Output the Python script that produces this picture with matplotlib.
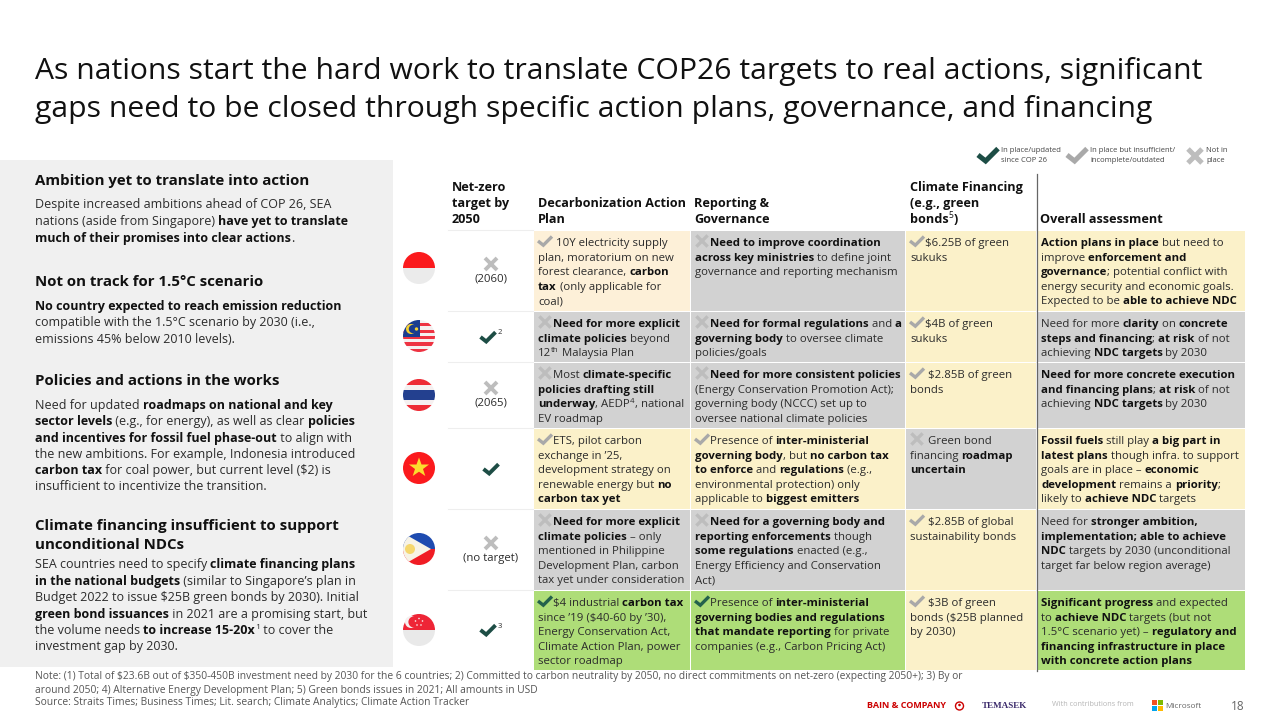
import re

import matplotlib
matplotlib.use("Agg")
import matplotlib.pyplot as plt
from matplotlib.font_manager import FontProperties
from matplotlib.patches import Circle, Polygon, Rectangle

FONT = "Open Sans"
TEXT = "#2b2b2b"
BLACK = "#111111"
plt.rcParams["text.parse_math"] = False

colors = {"peach": "#fdf0d8", "yellow": "#fbf1c9", "grey": "#d2d2d2", "green": "#aedd78"}
dark_check = "#1d4d45"
soft_check = "#a9a9a9"
soft_cross = "#bdbdbd"

title_lines = [
    "As nations start the hard work to translate COP26 targets to real actions, significant",
    "gaps need to be closed through specific action plans, governance, and financing",
]

# left panel: (line, y, is_heading)
panel_lines = [
    ("**Ambition yet to translate into action**", 179, True),
    ("Despite increased ambitions ahead of COP 26, SEA", 203, False),
    ("nations (aside from Singapore) **have yet to translate**", 220, False),
    ("**much of their promises into clear actions**.", 237, False),
    ("**Not on track for 1.5°C scenario**", 280, True),
    ("**No country expected to reach emission reduction**", 305, False),
    ("compatible with the 1.5°C scenario by 2030 (i.e.,", 321, False),
    ("emissions 45% below 2010 levels).", 338, False),
    ("**Policies and actions in the works**", 379, True),
    ("Need for updated **roadmaps on national and key**", 404, False),
    ("**sector levels** (e.g., for energy), as well as clear **policies**", 420, False),
    ("**and incentives for fossil fuel phase-out** to align with", 437, False),
    ("the new ambitions. For example, Indonesia introduced", 453, False),
    ("**carbon tax** for coal power, but current level ($2) is", 469, False),
    ("insufficient to incentivize the transition.", 485, False),
    ("**Climate financing insufficient to support**", 524, True),
    ("**unconditional NDCs**", 543, True),
    ("SEA countries need to specify **climate financing plans**", 563, False),
    ("**in the national budgets** (similar to Singapore’s plan in", 580, False),
    ("Budget 2022 to issue $25B green bonds by 2030). Initial", 596, False),
    ("**green bond issuances** in 2021 are a promising start, but", 613, False),
    ("the volume needs **to increase 15-20x**^1 to cover the", 629, False),
    ("investment gap by 2030.", 645, False),
]

headers = [
    (452, ["Net-zero", "target by", "2050"]),
    (538, ["Decarbonization Action", "Plan"]),
    (694, ["Reporting &", "Governance"]),
    (910, ["Climate Financing", "(e.g., green", "bonds^5)"]),
    (1040, ["Overall assessment"]),
]

row_edges = [231, 312, 363, 429, 510, 591, 671]
col_edges = [534, 691, 906, 1037, 1246]

netzero_status = ["cross", "dark", "cross", "dark", "cross", "dark"]
netzero_notes = ["(2060)", "^2", "(2065)", "", "(no target)", "^3"]

decarb_status = ["soft", "cross", "cross", "soft", "cross", "dark"]
decarb_fill = ["peach", "grey", "grey", "yellow", "grey", "green"]
decarb_cells = [
    [" 10Y electricity supply", "plan, moratorium on new", "forest clearance, **carbon**",
     "**tax** (only applicable for", "coal)"],
    ["**Need for more explicit**", "**climate policies** beyond", "12^th Malaysia Plan"],
    ["Most **climate-specific**", "**policies drafting still**", "**underway**, AEDP^4, national",
     "EV roadmap"],
    ["ETS, pilot carbon", "exchange in ’25,", "development strategy on",
     "renewable energy but **no**", "**carbon tax yet**"],
    ["**Need for more explicit**", "**climate policies** – only", "mentioned in Philippine",
     "Development Plan, carbon", "tax yet under consideration"],
    ["$4 industrial **carbon tax**", "since ’19 ($40-60 by ’30),", "Energy Conservation Act,",
     "Climate Action Plan, power", "sector roadmap"],
]

reporting_status = ["cross", "cross", "cross", "soft", "cross", "dark"]
reporting_fill = ["grey", "grey", "grey", "yellow", "grey", "green"]
reporting_cells = [
    ["**Need to improve coordination**", "**across key ministries** to define joint",
     "governance and reporting mechanism"],
    ["**Need for formal regulations** and **a**", "**governing body** to oversee climate",
     "policies/goals"],
    ["**Need for more consistent policies**", "(Energy Conservation Promotion Act);",
     "governing body (NCCC) set up to", "oversee national climate policies"],
    ["Presence of **inter-ministerial**", "**governing body**, but **no carbon tax**",
     "**to enforce** and **regulations** (e.g.,", "environmental protection) only",
     "applicable to **biggest emitters**"],
    ["**Need for a governing body and**", "**reporting enforcements** though",
     "**some regulations** enacted (e.g.,", "Energy Efficiency and Conservation", "Act)"],
    ["Presence of **inter-ministerial**", "**governing bodies and regulations**",
     "**that mandate reporting** for private", "companies (e.g., Carbon Pricing Act)"],
]

finance_status = ["soft", "soft", "soft", "cross", "soft", "soft"]
finance_fill = ["yellow", "yellow", "yellow", "grey", "yellow", "yellow"]
finance_cells = [
    ["$6.25B of green", "sukuks"],
    ["$4B of green", "sukuks"],
    [" $2.85B of green", "bonds"],
    [" Green bond", "financing **roadmap**", "**uncertain**"],
    [" $2.85B of global", "sustainability bonds"],
    [" $3B of green", "bonds ($25B planned", "by 2030)"],
]

overall_fill = ["yellow", "grey", "grey", "yellow", "grey", "green"]
overall_cells = [
    ["**Action plans in place** but need to", "improve **enforcement and**",
     "**governance**; potential conflict with", "energy security and economic goals.",
     "Expected to be **able to achieve NDC**"],
    ["Need for more **clarity** on **concrete**", "**steps and financing**; **at risk** of not",
     "achieving **NDC targets** by 2030"],
    ["**Need for more concrete execution**", "**and financing plans**; **at risk** of not",
     "achieving **NDC targets** by 2030"],
    ["**Fossil fuels** still play **a big part in**", "**latest plans** though infra. to support",
     "goals are in place – **economic**", "**development** remains a **priority**;",
     "likely to **achieve NDC** targets"],
    ["Need for **stronger ambition,**", "**implementation; able to achieve**",
     "**NDC** targets by 2030 (unconditional", "target far below region average)"],
    ["**Significant progress** and expected", "to **achieve NDC** targets (but not",
     "1.5°C scenario yet) – **regulatory and**", "**financing infrastructure in place**",
     "**with concrete action plans**"],
]

note_lines = [
    "Note: (1) Total of $23.6B out of $350-450B investment need by 2030 for the 6 countries; 2) Committed to carbon neutrality by 2050, no direct commitments on net-zero (expecting 2050+); 3) By or",
    "around 2050; 4) Alternative Energy Development Plan; 5) Green bonds issues in 2021; All amounts in USD",
    "Source: Straits Times; Business Times; Lit. search; Climate Analytics; Climate Action Tracker",
]

fig = plt.figure(figsize=(12.8, 7.2), dpi=100)
ax = fig.add_axes([0, 0, 1, 1])
ax.set_xlim(0, 1280)
ax.set_ylim(720, 0)
ax.axis("off")
renderer = fig.canvas.get_renderer()


def seg_width(s, prop):
    # trailing spaces are not measured, so measure against an end marker
    w1 = renderer.get_text_width_height_descent(s + "|", prop, False)[0]
    w2 = renderer.get_text_width_height_descent("|", prop, False)[0]
    return w1 - w2


def rich(x, y, line, size, color=TEXT):
    # **bold** and ^sup markup, y is the visual middle of the line
    reg = FontProperties(family=FONT, size=size)
    bold = FontProperties(family=FONT, size=size, weight="bold")
    small = FontProperties(family=FONT, size=size * 0.68)
    base = y + size * 0.52
    for i, part in enumerate(re.split(r"\*\*", line)):
        is_bold = i % 2 == 1
        for j, sub in enumerate(re.split(r"\^(\w+)", part)):
            if not sub:
                continue
            if j % 2 == 1:
                ax.text(x, base - size * 0.55, sub, fontproperties=small, color=color, va="baseline")
                x += seg_width(sub, small)
            else:
                prop = bold if is_bold else reg
                ax.text(x, base, sub, fontproperties=prop, color=BLACK if is_bold else color, va="baseline")
                x += seg_width(sub, prop)
    return x


def check(cx, cy, w, color, lw):
    ax.plot([cx - w * 0.5, cx - w * 0.12, cx + w * 0.5], [cy, cy + w * 0.3, cy - w * 0.32],
            color=color, lw=lw, solid_joinstyle="miter", solid_capstyle="butt")


def cross(cx, cy, w, color, lw):
    for s in (-1, 1):
        ax.plot([cx - w / 2, cx + w / 2], [cy - s * w / 2, cy + s * w / 2],
                color=color, lw=lw, solid_capstyle="butt")


def icon(kind, cx, cy, w=14, lw=2.4, on_green=False):
    if kind == "dark":
        check(cx, cy, w, "#24624c" if on_green else dark_check, lw)
    elif kind == "soft":
        check(cx, cy, w, soft_check, lw)
    else:
        cross(cx, cy, w * 0.8, soft_cross, lw)


def flag(cx, cy, r, bands, extra=None):
    clip = Circle((cx, cy), r, transform=ax.transData)
    top = cy - r
    for frac0, frac1, col in bands:
        p = Rectangle((cx - r, top + 2 * r * frac0), 2 * r, 2 * r * (frac1 - frac0), color=col, lw=0)
        ax.add_patch(p)
        p.set_clip_path(clip)
    if extra:
        extra(clip)


# title
ax.text(35, 71, title_lines[0], family=FONT, fontsize=21.7, color="#111111", va="center")
ax.text(35, 109, title_lines[1], family=FONT, fontsize=21.7, color="#111111", va="center")

# left panel
ax.add_patch(Rectangle((0, 160), 393, 507, color="#f0f0f0", lw=0))
for line, y, is_head in panel_lines:
    rich(35, y, line, 10.8 if is_head else 9.0, color="#2b2b2b")

# legend
check(988, 155, 20, dark_check, 3.6)
check(1077, 155, 20, soft_check, 3.6)
cross(1195, 156, 14, soft_cross, 3.6)
for x, y, s in [(1001, 151, "In place/updated"), (1001, 161, "since COP 26"),
                (1090, 151, "In place but insufficient/"), (1090, 161, "incomplete/outdated"),
                (1206, 151, "Not in"), (1206, 161, "place")]:
    ax.text(x, y, s, family=FONT, fontsize=5.5, color="#444444", va="center")

# headers (bottom aligned)
for x, lines in headers:
    y = 218 - 16 * (len(lines) - 1)
    for line in lines:
        rich(x, y, "**" + line.replace("^5", "**^5**") + "**", 9.05, color=BLACK)
        y += 16

# table cells
columns = [
    (decarb_cells, decarb_fill, decarb_status),
    (reporting_cells, reporting_fill, reporting_status),
    (finance_cells, finance_fill, finance_status),
    (overall_cells, overall_fill, None),
]
for c, (cells, fills, statuses) in enumerate(columns):
    x0, x1 = col_edges[c], col_edges[c + 1]
    for r, cell in enumerate(cells):
        y0, y1 = row_edges[r], row_edges[r + 1]
        ax.add_patch(Rectangle((x0, y0), x1 - x0 - 1.5, y1 - y0 - 1.5, color=colors[fills[r]], lw=0))
        y = y0 + 11
        for i, line in enumerate(cell):
            indent = 0
            if i == 0 and statuses is not None:
                icon(statuses[r], x0 + 11, y - 1, on_green=fills[r] == "green")
                indent = 15
            rich(x0 + 4 + indent, y, line, 8.2)
            y += 14.5

# net-zero column
netzero_y = [264, 337, 388, 469, 543, 630]
for r, kind in enumerate(netzero_status):
    note = netzero_notes[r]
    cx = 491 if not note.startswith("^") else 488
    icon(kind, cx, netzero_y[r], w=15, lw=2.8)
    if note.startswith("^"):
        ax.text(498, netzero_y[r] - 4, note[1:], family=FONT, fontsize=5.5, color=TEXT, va="center")
    elif note:
        ax.text(491, netzero_y[r] + 15, note, family=FONT, fontsize=8.2, color=TEXT, ha="center", va="center")
for y in row_edges[:-1]:
    ax.plot([448, 533], [y - 1, y - 1], color="#eeeeee", lw=0.8)

# separator
ax.plot([1036.5, 1036.5], [174, 671], color="#666666", lw=0.9)


# flags
def malaysia_extra(clip):
    p = Rectangle((403, 320), 17, 17, color="#1a3d8f", lw=0)
    ax.add_patch(p)
    p.set_clip_path(clip)
    ax.add_patch(Circle((411, 329), 5, color="#f5d033", lw=0))
    ax.add_patch(Circle((413, 329), 4.2, color="#1a3d8f", lw=0))
    ax.add_patch(Circle((416.5, 329), 1.7, color="#f5d033", lw=0))


def vietnam_extra(clip):
    pts = [(419, 457.5), (421.5, 464.5), (429, 464.5), (423, 469), (425.3, 476),
           (419, 471.7), (412.7, 476), (415, 469), (409, 464.5), (416.5, 464.5)]
    ax.add_patch(Polygon(pts, color="#fbdc2e", lw=0))


def philippines_extra(clip):
    p = Polygon([(403, 533), (431, 549), (403, 565)], color="#f7f3e6", lw=0)
    ax.add_patch(p)
    p.set_clip_path(clip)
    ax.add_patch(Circle((410, 549), 5, color="#f5d76e", lw=0))


def singapore_extra(clip):
    ax.add_patch(Circle((411, 622), 6, color="#f6f0f0", lw=0))
    ax.add_patch(Circle((414, 622), 5.6, color="#ee2536", lw=0))
    for dx, dy in [(0, -3.5), (3.5, -1), (2, 3), (-2, 3), (-3.5, -1)]:
        ax.add_patch(Circle((419 + dx, 622 + dy), 0.8, color="#f6f0f0", lw=0))


flag(419, 268, 16, [(0, 0.5, "#fb1a1d"), (0.5, 1, "#ebebeb")])
flag(419, 336, 16, [(i / 10, (i + 1) / 10, "#ee3342" if i % 2 else "#f5f0f0") for i in range(10)], malaysia_extra)
flag(419, 395, 16, [(0, 0.18, "#ee2b35"), (0.18, 0.34, "#f5f0f0"), (0.34, 0.66, "#23408f"),
                    (0.66, 0.82, "#f5f0f0"), (0.82, 1, "#ee2b35")])
flag(419, 468, 16, [(0, 1, "#fb1a1d")], vietnam_extra)
flag(419, 549, 16, [(0, 0.5, "#1e4bb0"), (0.5, 1, "#f01c24")], philippines_extra)
flag(419, 630, 16, [(0, 0.5, "#ee2536"), (0.5, 1, "#e9e9e9")], singapore_extra)

# footnotes
for y, line in zip([677, 690, 703], note_lines):
    ax.text(35, y, line, family=FONT, fontsize=7.35, color="#555555", va="center")

# logos and page number
ax.text(867, 706, "BAIN & COMPANY", family=FONT, fontsize=6.5, weight="bold", color="#cc0000", va="center")
ax.add_patch(Circle((959.5, 706), 4, fill=False, ec="#cc0000", lw=1))
ax.add_patch(Circle((959.5, 705), 1.3, color="#cc0000", lw=0))
ax.text(982, 706, "TEMASEK", family="Liberation Serif", fontsize=6.6, weight="bold", color="#3b2a6b", va="center")
ax.text(1052, 705, "With contributions from", family=FONT, fontsize=5.2, color="#b5b5b5", va="center")
for dx, dy, col in [(0, 0, "#f25022"), (5.5, 0, "#7fba00"), (0, 5.5, "#00a4ef"), (5.5, 5.5, "#ffb900")]:
    ax.add_patch(Rectangle((1152 + dx, 700 + dy), 5, 5, color=col, lw=0))
ax.text(1165, 706, "Microsoft", family=FONT, fontsize=5.9, color="#666666", va="center")
ax.text(1231, 706, "18", family=FONT, fontsize=8.5, color="#666666", va="center")

fig.savefig("out.png", dpi=100)
